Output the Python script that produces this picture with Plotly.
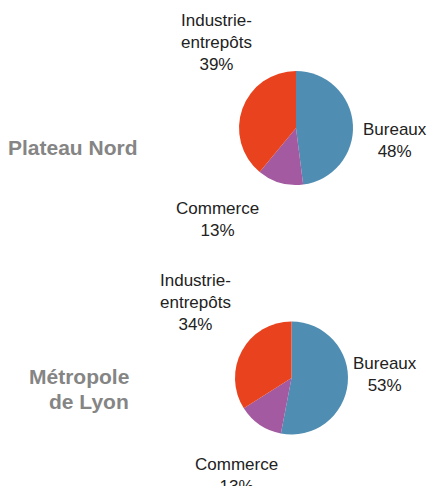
import plotly.graph_objects as go

W, H = 429, 486

categories = ["Bureaux", "Commerce", "Industrie-entrepôts"]
label_lines = ["Bureaux", "Commerce", "Industrie-<br>entrepôts"]
plateau_values = [48, 13, 39]
metropole_values = [53, 13, 34]
colors = ["#4f8db3", "#a35aa0", "#e8431e"]
titles = ["Plateau Nord", "Métropole", "de Lyon"]


def px_x(v):
    return v / W


def px_y(v):
    return 1 - v / H


fig = go.Figure()

# pies: (center x, center y, radius) in pixels
pies = [
    (plateau_values, (296, 128, 57)),
    (metropole_values, (291.5, 378, 56.5)),
]
for vals, (cx, cy, r) in pies:
    fig.add_trace(go.Pie(
        labels=categories,
        values=vals,
        sort=False,
        direction="clockwise",
        rotation=0,
        textinfo="none",
        hoverinfo="label+percent",
        marker=dict(colors=colors, line=dict(width=0)),
        domain=dict(x=[px_x(cx - r), px_x(cx + r)],
                    y=[px_y(cy + r), px_y(cy - r)]),
        showlegend=False,
    ))

annotations = []
label_font = dict(family="Liberation Sans, Arial, sans-serif", size=17, color="#222222")

# label centers (pixels) for [Bureaux, Commerce, Industrie]
label_pos = [
    [(395, 140), (217, 219), (216, 43)],
    [(385, 374), (237, 475), (195, 302)],
]
for vals, positions in zip([plateau_values, metropole_values], label_pos):
    for name, v, (x, y) in zip(label_lines, vals, positions):
        annotations.append(dict(
            text=f"{name}<br>{v}%",
            x=px_x(x), y=px_y(y), xref="paper", yref="paper",
            xanchor="center", yanchor="middle", align="center",
            showarrow=False, font=label_font,
        ))

title_font = dict(family="Liberation Sans, Arial, sans-serif", size=21, color="#858585")
title_pos = [(140, 148), (131, 376), (131, 401)]
for t, (x, y) in zip(titles, title_pos):
    annotations.append(dict(
        text=f"<b>{t}</b>",
        x=px_x(x), y=px_y(y), xref="paper", yref="paper",
        xanchor="right", yanchor="middle", align="right",
        showarrow=False, font=title_font,
    ))

fig.update_layout(
    width=W, height=H,
    margin=dict(l=0, r=0, t=0, b=0),
    paper_bgcolor="white",
    plot_bgcolor="white",
    annotations=annotations,
)

fig.write_html(
    "out.html",
    config={"displayModeBar": False},
    post_script="document.body.style.margin='0';document.body.style.overflow='hidden';",
)
